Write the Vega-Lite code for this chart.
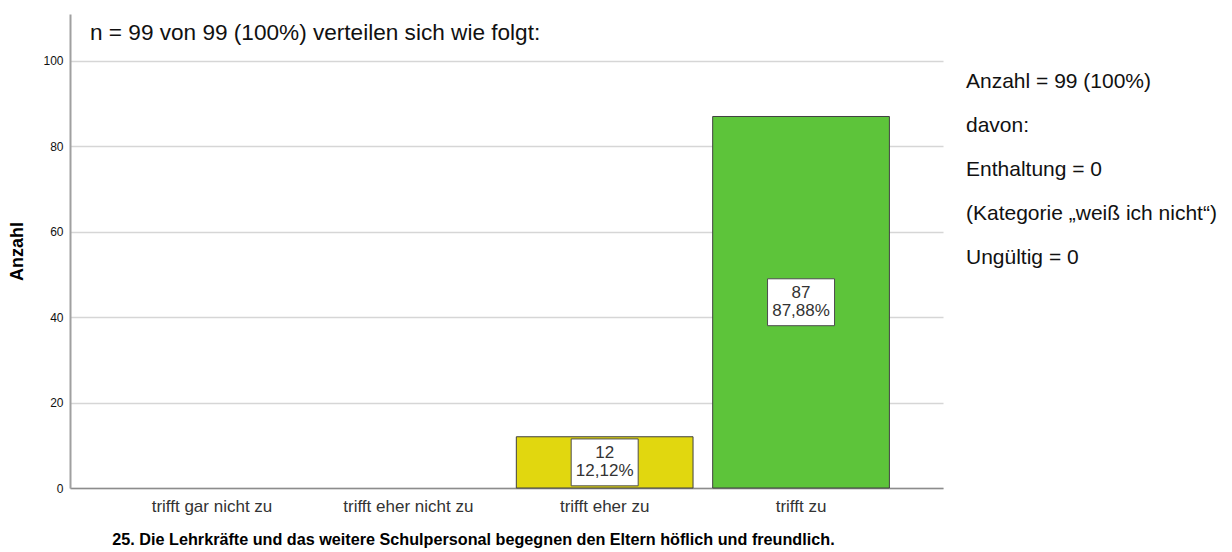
{
  "$schema": "https://vega.github.io/schema/vega-lite/v6.json",
  "padding": {"left": 8, "top": 14, "right": 0, "bottom": 0},
  "background": "white",
  "config": {
    "font": "Liberation Sans",
    "view": {"stroke": null},
    "concat": {"spacing": 23}
  },
  "datasets": {
    "antworten": [
      {"kategorie": "trifft gar nicht zu", "anzahl": 0, "prozent": "0,00%"},
      {"kategorie": "trifft eher nicht zu", "anzahl": 0, "prozent": "0,00%"},
      {"kategorie": "trifft eher zu", "anzahl": 12, "prozent": "12,12%"},
      {"kategorie": "trifft zu", "anzahl": 87, "prozent": "87,88%"}
    ],
    "info": [
      {"zeile": "Anzahl = 99 (100%)"},
      {"zeile": "davon:"},
      {"zeile": "Enthaltung = 0"},
      {"zeile": "(Kategorie „weiß ich nicht“)"},
      {"zeile": "Ungültig = 0"}
    ]
  },
  "hconcat": [
    {
      "width": 873,
      "height": 474,
      "title": {
        "text": "n = 99 von 99 (100%) verteilen sich wie folgt:",
        "anchor": "start",
        "frame": "group",
        "orient": "top",
        "offset": -21,
        "baseline": "middle",
        "dx": 20,
        "dy": 21,
        "fontSize": 22.6,
        "fontWeight": "normal",
        "color": "#111111"
      },
      "data": {"name": "antworten"},
      "transform": [{"filter": "datum.anzahl > 0"}],
      "encoding": {
        "x": {
          "field": "kategorie",
          "type": "nominal",
          "sort": null,
          "scale": {
            "domain": ["trifft gar nicht zu", "trifft eher nicht zu", "trifft eher zu", "trifft zu"],
            "paddingInner": 0.1,
            "paddingOuter": 0.273
          },
          "axis": {
            "title": "25. Die Lehrkräfte und das weitere Schulpersonal begegnen den Eltern höflich und freundlich.",
            "titleFontSize": 16.2,
            "titleFontWeight": "bold",
            "titleColor": "#000000",
            "titleX": 403,
            "titlePadding": 17,
            "labelAngle": 0,
            "labelFontSize": 17,
            "labelColor": "#333333",
            "labelPadding": 10,
            "ticks": false,
            "domainColor": "#8c8c8c",
            "domainWidth": 1.5,
            "grid": false
          }
        }
      },
      "layer": [
        {
          "mark": {"type": "bar", "stroke": "#404040", "strokeWidth": 1},
          "encoding": {
            "y": {
              "field": "anzahl",
              "type": "quantitative",
              "scale": {"domain": [0, 111], "nice": false},
              "axis": {
                "title": "Anzahl",
                "titleFontSize": 18,
                "titleFontWeight": "bold",
                "titleColor": "#000000",
                "titlePadding": 16,
                "values": [0, 20, 40, 60, 80, 100],
                "labelFontSize": 12,
                "labelColor": "#111111",
                "labelPadding": 7,
                "ticks": false,
                "grid": true,
                "gridColor": "#d6d6d6",
                "gridWidth": 1.5,
                "domainColor": "#a0a0a0",
                "domainWidth": 2
              }
            },
            "color": {
              "field": "kategorie",
              "type": "nominal",
              "scale": {
                "domain": ["trifft gar nicht zu", "trifft eher nicht zu", "trifft eher zu", "trifft zu"],
                "range": ["#d7301f", "#f08a24", "#e1d70f", "#5dc43a"]
              },
              "legend": null
            }
          }
        },
        {
          "mark": {
            "type": "point",
            "shape": "M-1,-0.7L1,-0.7L1,0.7L-1,0.7Z",
            "size": 4489,
            "filled": true,
            "fill": "#ffffff",
            "stroke": "#4d4d4d",
            "strokeWidth": 1,
            "opacity": 1,
            "fillOpacity": 1
          },
          "encoding": {
            "y": {"field": "anzahl", "type": "quantitative", "stack": "zero", "bandPosition": 0.5}
          }
        },
        {
          "mark": {"type": "text", "fontSize": 17, "color": "#333333", "baseline": "middle", "dy": -9},
          "encoding": {
            "y": {"field": "anzahl", "type": "quantitative", "stack": "zero", "bandPosition": 0.5},
            "text": {"field": "anzahl", "type": "quantitative"}
          }
        },
        {
          "mark": {"type": "text", "fontSize": 17, "color": "#333333", "baseline": "middle", "dy": 9},
          "encoding": {
            "y": {"field": "anzahl", "type": "quantitative", "stack": "zero", "bandPosition": 0.5},
            "text": {"field": "prozent", "type": "nominal"}
          }
        }
      ]
    },
    {
      "width": 262,
      "height": 312,
      "data": {"name": "info"},
      "mark": {"type": "text", "align": "left", "baseline": "middle", "fontSize": 21, "color": "#111111"},
      "encoding": {
        "x": {"datum": 0, "type": "quantitative", "scale": {"domain": [0, 1], "nice": false}, "axis": null},
        "y": {"field": "zeile", "type": "nominal", "sort": null, "scale": {"type": "point", "range": [68, 244], "padding": 0}, "axis": null},
        "text": {"field": "zeile", "type": "nominal"}
      }
    }
  ]
}
